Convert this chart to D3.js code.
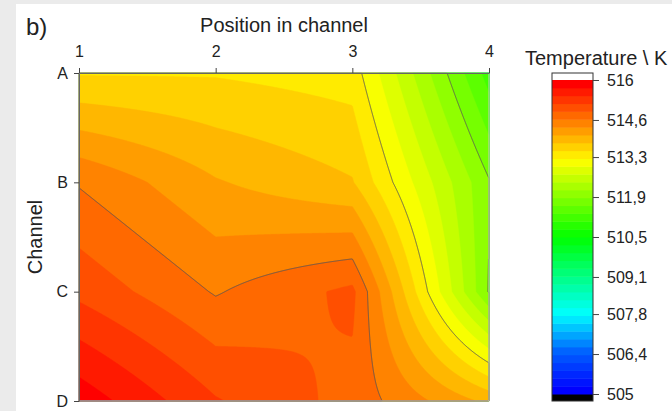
<!DOCTYPE html>
<html lang="en">
<head>
<meta charset="utf-8">
<title>Temperature contour</title>
<style>
  body { margin: 0; background: #ebebeb; }
  svg { display: block; font-family: "Liberation Sans", Arial, sans-serif; }
</style>
</head>
<body>
<svg id="chart" width="672" height="411"></svg>
<script src="https://d3js.org/d3.v7.min.js"></script>
<script>
  // grid data, one row per channel
  const positions = [1, 2, 3, 4];
  const channels = ["A", "B", "C", "D"];
  const tempA = [513.5, 513.5, 513.4, 511.2];
  const tempB = [514.6, 514.1, 513.82, 511.9];
  const tempC = [515.1, 514.6, 514.97, 511.85];
  const tempD = [515.9, 515.2, 514.8, 514.0];
  const barLabels = ["516", "514,6", "513,3", "511,9", "510,5", "509,1", "507,8", "506,4", "505"];
  const tMin = 505, tMax = 516, nLevels = 40;
  const lineLevels = [511.875, 513.25, 514.625];

  const grid = [tempA, tempB, tempC, tempD];

  const svg = d3.select("#chart");
  svg.append("rect").attr("x", 16).attr("y", 4).attr("width", 656).attr("height", 407).attr("fill", "#fff");

  const pL = 79, pR = 489, pT = 73, pB = 401;
  const x = d3.scaleLinear().domain([1, 4]).range([pL, pR]);
  const y = d3.scalePoint().domain(channels).range([pT, pB]);

  const palette = d3.scaleLinear()
    .domain([505, 506.375, 507.75, 509.125, 510.5, 511.875, 513.25, 514.625, 516])
    .range(["#0000ff", "#0060ff", "#00ffff", "#00ff80", "#00ff00", "#80ff00", "#ffff00", "#ff8000", "#ff0000"]);
  const step = (tMax - tMin) / nLevels;
  const levels = d3.range(nLevels).map(i => tMin + i * step);
  const bandColor = i => palette(tMin + i * (tMax - tMin) / (nLevels - 1));

  // bilinear value inside the 4x4 grid
  function valueAt(px, py) {
    let gx = (px - pL) / ((pR - pL) / 3);
    let gy = (py - pT) / ((pB - pT) / 3);
    let i = Math.max(0, Math.min(2, Math.floor(gx)));
    let j = Math.max(0, Math.min(2, Math.floor(gy)));
    let u = gx - i, v = gy - j;
    return grid[j][i] * (1 - u) * (1 - v) + grid[j][i + 1] * u * (1 - v)
         + grid[j + 1][i] * (1 - u) * v + grid[j + 1][i + 1] * u * v;
  }

  const nx = pR - pL, ny = pB - pT;
  const values = new Array(nx * ny);
  for (let j = 0; j < ny; j++) {
    for (let i = 0; i < nx; i++) {
      values[j * nx + i] = valueAt(pL + i + 0.5, pT + j + 0.5);
    }
  }

  const path = d3.geoPath(d3.geoIdentity().translate([pL, pT]));
  const plot = svg.append("g");

  plot.selectAll("path.band")
    .data(d3.contours().size([nx, ny]).thresholds(levels)(values))
    .join("path")
      .attr("class", "band")
      .attr("d", path)
      .attr("fill", (d, i) => bandColor(i))
      .attr("stroke", (d, i) => bandColor(i))
      .attr("stroke-width", 0.5);

  plot.selectAll("path.line")
    .data(d3.contours().size([nx, ny]).thresholds(lineLevels)(values))
    .join("path")
      .attr("class", "line")
      .attr("d", path)
      .attr("fill", "none")
      .attr("stroke", "#555")
      .attr("stroke-opacity", 0.85)
      .attr("stroke-width", 1);

  // frame
  svg.append("rect")
    .attr("x", pL).attr("y", pT).attr("width", pR - pL).attr("height", pB - pT)
    .attr("fill", "none").attr("stroke", "#c8c8c8").attr("stroke-width", 1);

  const xAxis = svg.append("g")
    .attr("transform", `translate(0,${pT})`)
    .call(d3.axisTop(x).tickValues(positions).tickFormat(d3.format("d")).tickSize(5).tickSizeOuter(0).tickPadding(11));
  const yAxis = svg.append("g")
    .attr("transform", `translate(${pL},0)`)
    .call(d3.axisLeft(y).tickSize(5).tickSizeOuter(0).tickPadding(6));

  [xAxis, yAxis].forEach(a => {
    a.select(".domain").attr("stroke", "#666");
    a.selectAll(".tick line").attr("stroke", "#444");
    a.selectAll("text").attr("font-size", 16).attr("fill", "#222");
  });

  svg.append("text").attr("x", 26).attr("y", 35).attr("font-size", 24).attr("fill", "#222").text("b)");
  svg.append("text").attr("x", (pL + pR) / 2).attr("y", 32)
    .attr("text-anchor", "middle").attr("font-size", 20).attr("fill", "#222").text("Position in channel");
  svg.append("text").attr("transform", "translate(42,237) rotate(-90)")
    .attr("text-anchor", "middle").attr("font-size", 20).attr("fill", "#222").text("Channel");

  // colour bar
  const cbX = 552, cbW = 41, cbTop = 73, cbBot = 401;
  const cb = d3.scaleLinear().domain([tMin, tMax]).range([394, 80]);
  const bar = svg.append("g");
  bar.append("rect").attr("x", cbX).attr("y", cbTop).attr("width", cbW).attr("height", cb(tMax) - cbTop).attr("fill", "#fff");
  bar.append("rect").attr("x", cbX).attr("y", cb(tMin)).attr("width", cbW).attr("height", cbBot - cb(tMin)).attr("fill", "#000");
  bar.selectAll("rect.step")
    .data(levels)
    .join("rect")
      .attr("class", "step")
      .attr("x", cbX)
      .attr("y", d => cb(d + step))
      .attr("width", cbW)
      .attr("height", d => cb(d) - cb(d + step) + 0.5)
      .attr("fill", (d, i) => bandColor(i));
  bar.append("rect").attr("x", cbX).attr("y", cbTop).attr("width", cbW).attr("height", cbBot - cbTop)
    .attr("fill", "none").attr("stroke", "#333").attr("stroke-width", 1);

  const barTicks = barLabels.map(s => +s.replace(",", "."));
  const barAxis = svg.append("g")
    .attr("transform", `translate(${cbX + cbW},0)`)
    .call(d3.axisRight(cb).tickValues(barTicks).tickFormat((d, i) => barLabels[i]).tickSize(6).tickPadding(8));
  barAxis.select(".domain").remove();
  barAxis.selectAll(".tick line").attr("stroke", "#444");
  barAxis.selectAll("text").attr("font-size", 16).attr("fill", "#222");

  svg.append("text").attr("x", 525).attr("y", 65).attr("font-size", 20).attr("fill", "#222").text("Temperature \\ K");
</script>
</body>
</html>
